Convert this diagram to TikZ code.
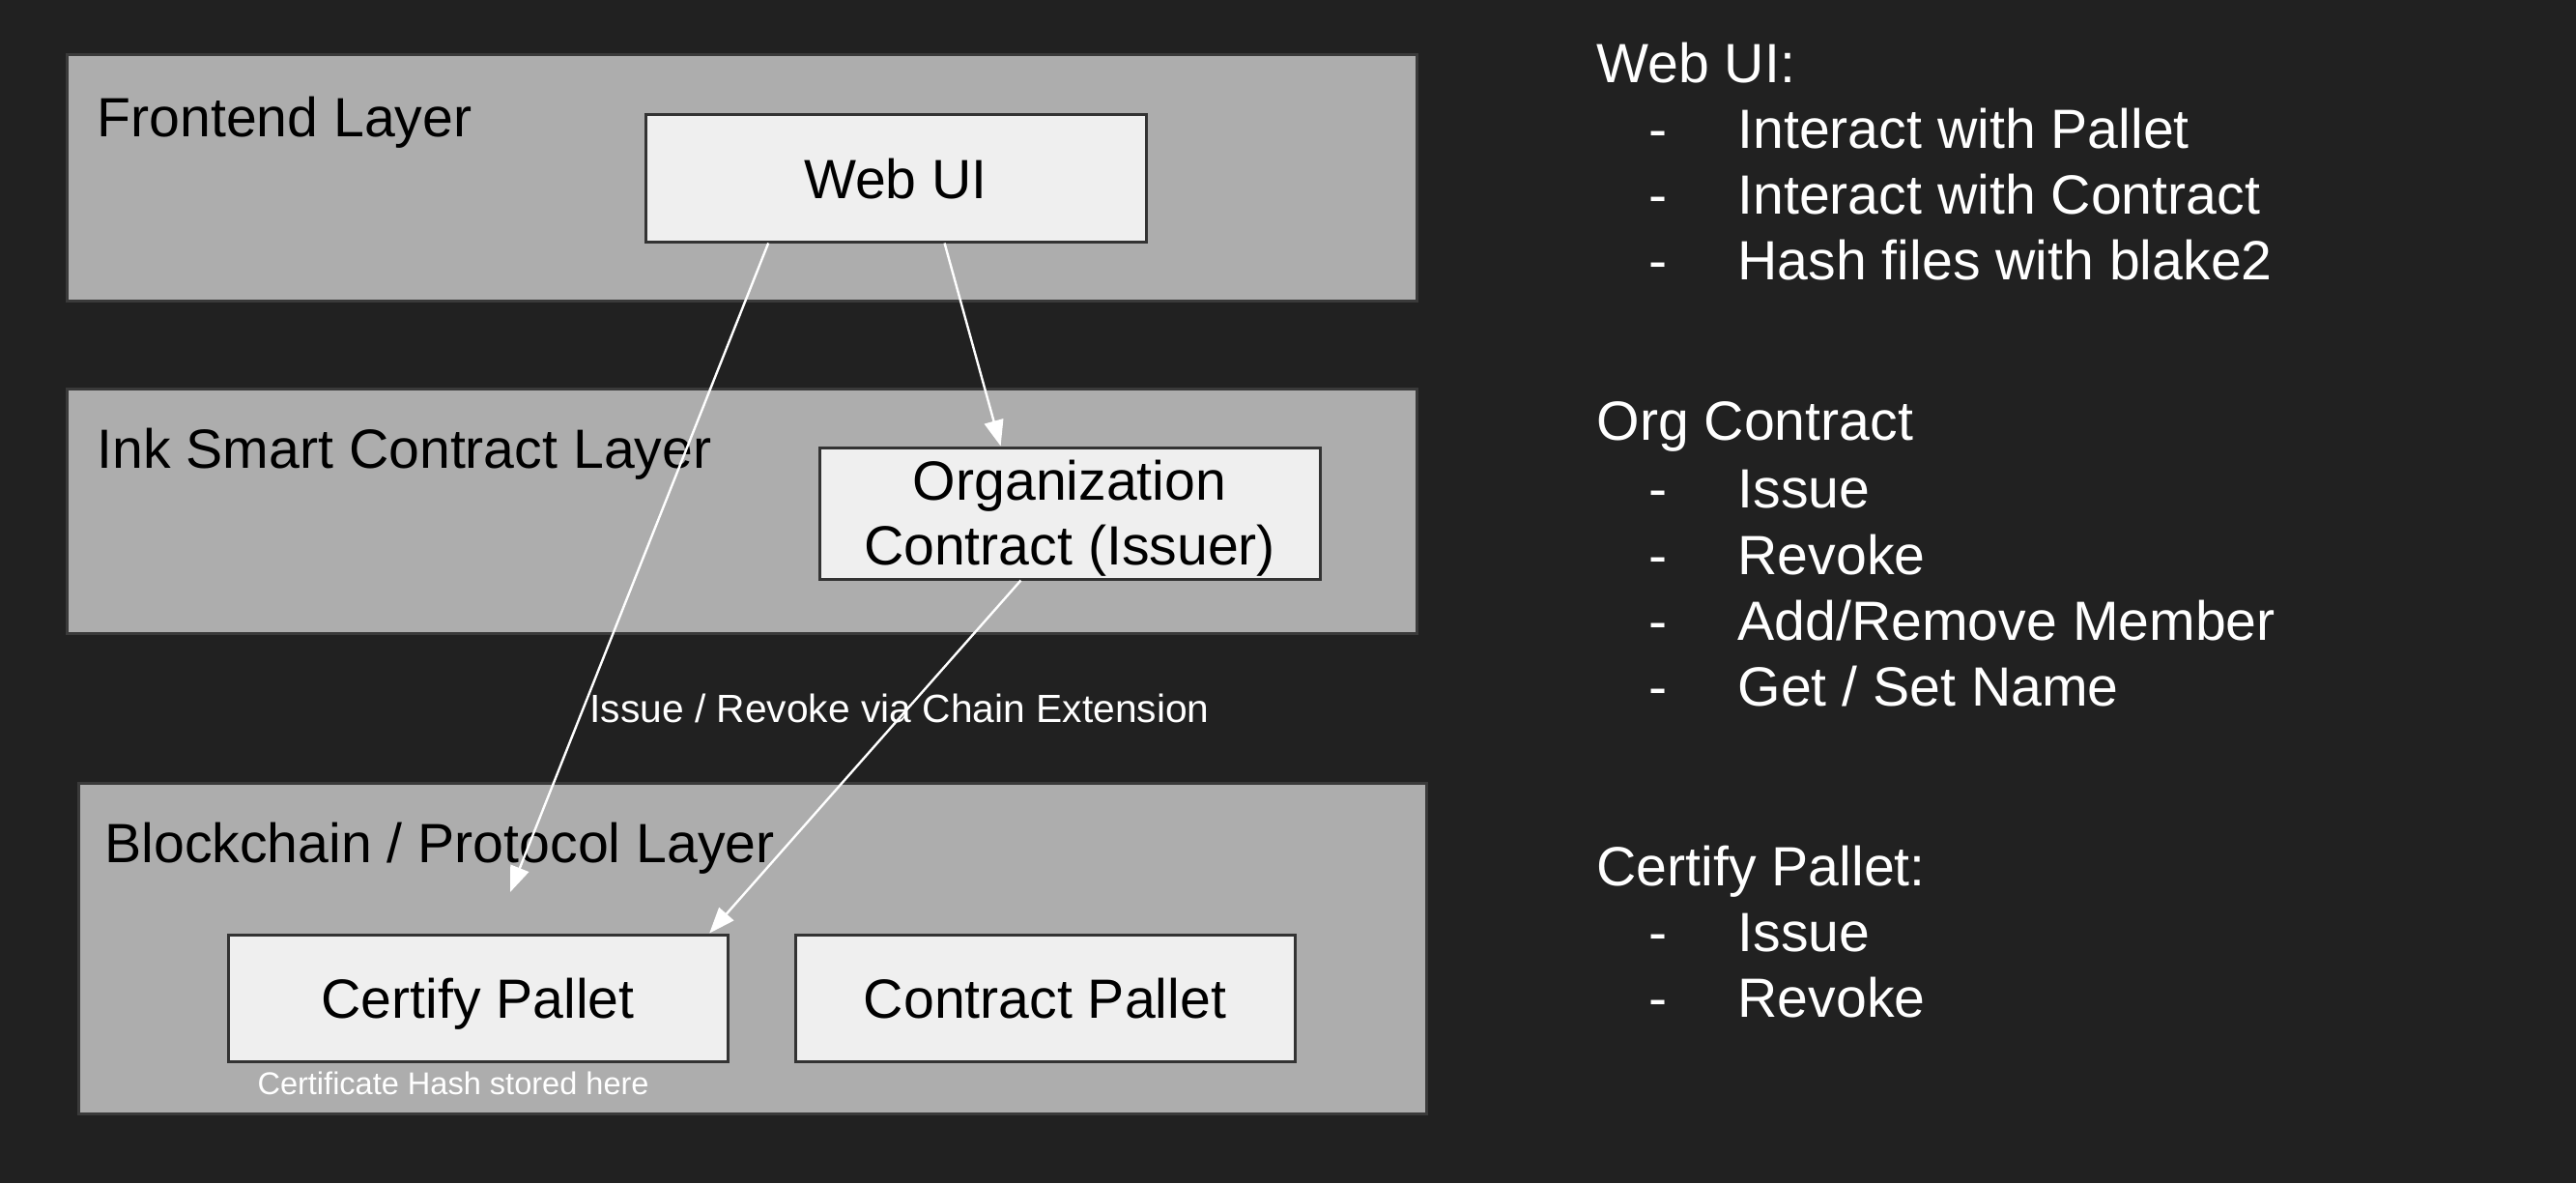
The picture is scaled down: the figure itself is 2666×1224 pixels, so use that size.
\documentclass[tikz,border=0pt]{standalone}
\usepackage{fontspec}
\setmainfont{Liberation Sans}
\usetikzlibrary{fit,calc,arrows.meta}
\definecolor{bgc}{HTML}{212121}
\definecolor{layerfill}{HTML}{ADADAD}
\definecolor{layerline}{HTML}{3A3A3A}
\definecolor{boxfill}{HTML}{EFEFEF}
\definecolor{boxline}{HTML}{333333}
\newcommand{\dashitem}[1]{\makebox[34.5pt][l]{-}#1}
\begin{document}
\begin{tikzpicture}[x=0.375pt,y=-0.375pt,
 layer/.style={draw=layerline, fill=layerfill, line width=1.125pt, inner sep=0pt},
 box/.style={draw=boxline, fill=boxfill, line width=1.125pt, inner sep=0pt},
 big/.style={font=\fontsize{21.45pt}{26pt}\selectfont, inner sep=0pt},
 layertitle/.style={big, anchor=base west, text=black},
 boxtext/.style={big, anchor=base, text=black},
 note/.style={big, anchor=base west, text=white},
 lbl/.style={font=\fontsize{15.28pt}{18pt}\selectfont, text=white, inner sep=0pt, anchor=base west},
 small/.style={font=\fontsize{12.2pt}{14pt}\selectfont, text=white, inner sep=0pt, anchor=base west},
 arr/.style={draw=white, line width=0.9pt, -{Triangle[length=10pt,width=7.5pt]}}]
\useasboundingbox (0,0) rectangle (2666,1224);
\fill[bgc] (0,0) rectangle (2666,1224);

% layers
\node[layer, fit={(69,56) (1466,311)}] (fel) {};
\node[layer, fit={(69,402) (1466,655)}] (inkl) {};
\node[layer, fit={(81,810) (1476,1152)}] (bcl) {};
\node[layertitle] (felt) at (100,141) {Frontend Layer};
\node[layertitle] (inklt) at (100,484) {Ink Smart Contract Layer};
\node[layertitle] (bclt) at (108,892) {Blockchain / Protocol Layer};

% boxes
\node[box, fit={(668,118) (1186,250)}] (web) {};
\node[boxtext] (webt) at (927,205) {Web UI};
\node[box, fit={(848,463) (1366,599)}] (org) {};
\node[boxtext] (orga) at (1107,517) {Organization};
\node[boxtext] (orgb) at (1107,584) {Contract (Issuer)};
\node[box, fit={(236,967) (753,1098)}] (cert) {};
\node[boxtext] (certt) at (494.5,1053) {Certify Pallet};
\node[box, fit={(823,967) (1340,1098)}] (cpal) {};
\node[boxtext] (cpalt) at (1081.5,1053) {Contract Pallet};
\node[small] (hash) at (266,1132) {Certificate Hash stored here};

% connectors
\coordinate (hashin) at (528,923);
\draw[arr] ($(web.south west)!0.247!(web.south east)$) -- (hashin);
\draw[arr] ($(web.south west)!0.597!(web.south east)$) -- ($(org.north west)!0.363!(org.north east)$);
\draw[arr] ($(org.south west)!0.403!(org.south east)$) -- ($(cert.north west)!0.961!(cert.north east)$);
\node[lbl] (ext) at (610,747) {Issue / Revoke via Chain Extension};

% notes
\node[note] (n1) at (1652,85) {Web UI:};
\node[note] (n1a) at (1706,153) {\dashitem{Interact with Pallet}};
\node[note] (n1b) at (1706,221.5) {\dashitem{Interact with Contract}};
\node[note] (n1c) at (1706,289.5) {\dashitem{Hash files with blake2}};
\node[note] (n2) at (1652,455.6) {Org Contract};
\node[note] (n2a) at (1706,525) {\dashitem{Issue}};
\node[note] (n2b) at (1706,594) {\dashitem{Revoke}};
\node[note] (n2c) at (1706,662) {\dashitem{Add/Remove Member}};
\node[note] (n2d) at (1706,730) {\dashitem{Get / Set Name}};
\node[note] (n3) at (1652,916) {Certify Pallet:};
\node[note] (n3a) at (1706,984) {\dashitem{Issue}};
\node[note] (n3b) at (1706,1052) {\dashitem{Revoke}};
\end{tikzpicture}
\end{document}
